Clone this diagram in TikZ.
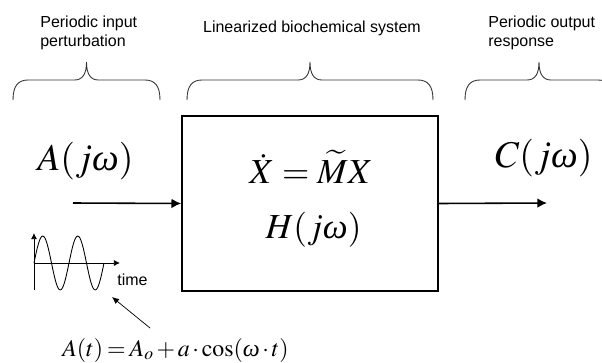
\documentclass[tikz,border=0pt]{standalone}
\usepackage{mathptmx}
\usepackage[no-math]{fontspec}
\setmainfont{Liberation Sans}
\newfontfamily\timesfam{Liberation Serif}
\newcommand{\omg}{\mbox{\timesfam\itshape ω}}
\usetikzlibrary{arrows.meta,positioning}

\begin{document}
\begin{tikzpicture}[
  x=0.02cm, y=-0.02cm,
  >={Latex[length=5.5pt,width=5.5pt]},
  label/.style={font=\fontsize{9.1}{10.8}\selectfont, inner sep=0pt, align=left},
  bigmath/.style={font=\fontsize{21.5}{25}\selectfont, inner sep=0pt},
  boxmath/.style={font=\fontsize{20}{24}\selectfont, inner sep=0pt},
  sysbox/.style={rectangle, draw, line width=1pt, minimum width=5.12cm, minimum height=3.5cm},
  curly/.style={line width=0.5pt, black!80},
  flow/.style={->, line width=0.9pt},
  thin axis/.style={->, line width=0.5pt, >={Latex[length=3.5pt,width=3.5pt]}}
]
  \useasboundingbox (0,0) rectangle (602,362);
  \clip (0,0) rectangle (602,362);

  % texts on top
  \node[label, anchor=north west] (inlab) at (40,15.5) {Periodic input\\perturbation};
  \node[label, anchor=base] (syslab) at (312,32) {Linearized biochemical system};
  \node[label, anchor=north west] (outlab) at (488,15.5) {Periodic output\\response};

  % braces
  \foreach \l/\r in {13/160, 187/433, 465/613} {
    \pgfmathsetmacro\c{(\l+\r)/2}
    \draw[curly] (\l,100) .. controls (\l,86) and (\l+5,80) .. (\l+15,80)
      -- (\c-12,80) .. controls (\c-4,80) and (\c,74) .. (\c,62)
      .. controls (\c,74) and (\c+4,80) .. (\c+12,80)
      -- (\r-15,80) .. controls (\r-5,80) and (\r,86) .. (\r,100);
  }

  % system block
  \node[sysbox] (sys) at (310,203.5) {};
  \node[boxmath, anchor=base] (ode) at (311,183) {$\dot{X}=\widetilde{M}X$};
  \node[boxmath, anchor=base] (tf) at (313.5,238) {$H(j\omg)$};

  % input and output
  \node[bigmath, anchor=base west] (ain) at (37,170) {$A(j\omg)$};
  \node[bigmath, anchor=base west] (cout) at (495,167) {$C(j\omg)$};
  \coordinate (src) at (73,203);
  \coordinate (dst) at (547,203);
  \draw[flow] (src) -- (sys.west);
  \draw[flow] (sys.east) -- (dst);

  % small sine sketch
  \coordinate (orig) at (34,263);
  \draw[thin axis] (34,290) -- (34,233);
  \draw[thin axis] (orig) -- (120,263);
  \draw[line width=0.5pt] (orig) sin (42.75,236) cos (51.5,263) sin (60.25,290) cos (69,263)
    sin (77.75,236) cos (86.5,263) sin (95.25,290) cos (104,263);
  \node[label, anchor=base west] (tlab) at (117,285) {time};

  % formula and pointer
  \node[font=\fontsize{13.6}{16}\selectfont, inner sep=0pt, anchor=base west] (form) at (62,356)
    {\thickmuskip=3mu \medmuskip=2mu $A(t)=A_o+a\cdot\cos(\omg\cdot t)$};
  \coordinate (ptail) at (150,328);
  \coordinate (phead) at (112,297);
  \draw[->, line width=0.4pt, >={Latex[length=4pt,width=3.5pt]}] (ptail) -- (phead);
\end{tikzpicture}
\end{document}
